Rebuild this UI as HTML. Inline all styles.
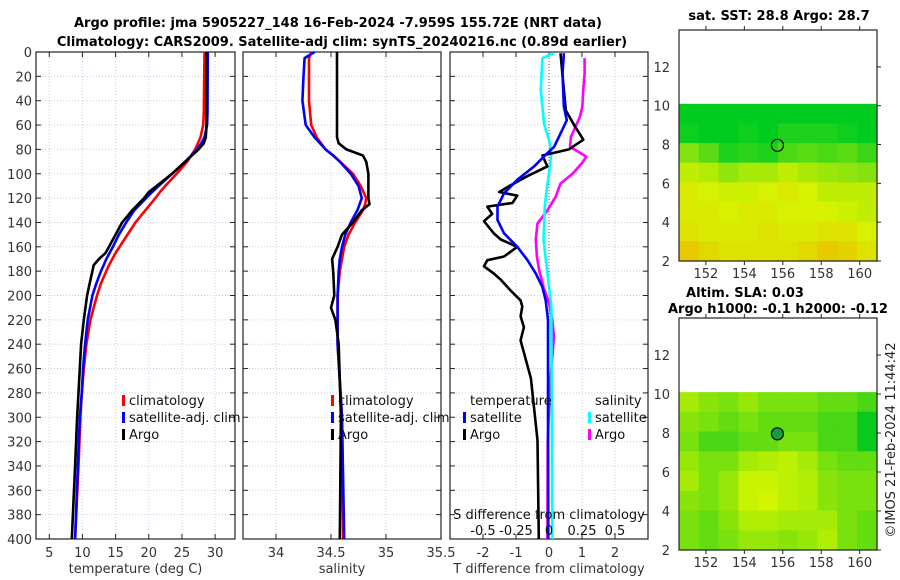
<!DOCTYPE html>
<html><head><meta charset="utf-8"><style>
html,body{margin:0;padding:0;background:#fff;}
svg{display:block;font-family:"DejaVu Sans","Liberation Sans",sans-serif;}
</style></head><body>
<svg id="c" width="900" height="580" viewBox="0 0 900 580" xmlns="http://www.w3.org/2000/svg">
<text x="338" y="27" text-anchor="middle" font-size="13" font-weight="bold">Argo profile: jma 5905227_148 16-Feb-2024 -7.959S 155.72E (NRT data)</text>
<text x="342" y="46" text-anchor="middle" font-size="13" font-weight="bold">Climatology: CARS2009. Satellite-adj clim: synTS_20240216.nc (0.89d earlier)</text>
<text x="779" y="20" text-anchor="middle" font-size="13" font-weight="bold">sat. SST: 28.8 Argo: 28.7</text>
<text x="745" y="297" text-anchor="middle" font-size="13" font-weight="bold">Altim. SLA: 0.03</text>
<text x="778" y="313" text-anchor="middle" font-size="13" font-weight="bold">Argo h1000: -0.1 h2000: -0.12</text>
<text transform="translate(895,440) rotate(-90)" text-anchor="middle" font-size="13" fill="#222">©IMOS 21-Feb-2024 11:44:42</text>
<g id="g"></g>
</svg>
<script>
// ---- depth axis ----
const depthTicks=[0,20,40,60,80,100,120,140,160,180,200,220,240,260,280,300,320,340,360,380,400];
// ---- Temperature panel ----
const tDepth=[0,50,60,70,75,80,90,100,110,115,120,130,140,150,160,165,170,175,180,190,200,220,240,260,280,300,340,400];
const tArgo=[28.7,28.7,28.7,28.6,28.3,27.5,25.5,23.5,21.2,20.0,19.3,17.5,16.0,15.0,14.0,13.5,12.5,11.7,11.5,11.1,10.7,10.2,9.8,9.6,9.4,9.2,8.9,8.4];
const tClim=[28.4,28.3,28.2,27.8,27.4,27.0,25.8,24.2,22.5,21.7,21.0,19.5,18.0,16.8,15.6,15.0,14.5,14.0,13.6,12.8,12.2,11.2,10.6,10.2,9.9,9.7,9.4,8.9];
const tSat=[28.9,28.85,28.8,28.4,27.9,27.3,25.5,23.5,21.5,20.5,19.6,17.8,16.6,15.5,14.6,14.1,13.6,13.2,12.8,12.1,11.5,10.8,10.4,10.1,9.9,9.6,9.3,8.9];
const tTicks=[5,10,15,20,25,30];
// ---- Salinity panel ----
const sDepth=[0,5,20,40,60,70,75,80,85,90,100,110,120,125,130,140,150,160,170,180,200,210,220,240,300,400];
const sArgo=[34.555,34.555,34.555,34.555,34.555,34.555,34.57,34.64,34.79,34.82,34.84,34.84,34.84,34.85,34.78,34.70,34.60,34.56,34.51,34.52,34.53,34.50,34.54,34.57,34.59,34.58];
const sClim=[34.32,34.30,34.30,34.30,34.32,34.37,34.41,34.45,34.52,34.58,34.70,34.77,34.82,34.81,34.79,34.72,34.66,34.62,34.60,34.58,34.56,34.56,34.56,34.56,34.60,34.61];
const sSat=[34.35,34.26,34.25,34.24,34.27,34.35,34.40,34.45,34.52,34.58,34.68,34.75,34.78,34.76,34.74,34.68,34.63,34.60,34.58,34.57,34.56,34.56,34.56,34.56,34.60,34.62];
const sTicks=[34,34.5,35,35.5];
const sTickLabels=["34","34.5","35","35.5"];
// ---- Difference panel ----
const dTDepth=[1,48,60,72,80,85,94,102,111,115,118,124,127,133,139,144,149,154,160,168,171,176,182,187,196,204,209,217,226,237,268,319,400];
const dTArgo=[0.35,0.51,0.76,1.04,0.60,-0.20,-0.05,-0.66,-1.26,-1.51,-0.96,-1.11,-1.87,-1.72,-1.97,-1.82,-1.67,-1.46,-0.96,-1.36,-1.87,-1.97,-1.67,-1.46,-1.16,-0.86,-0.81,-0.86,-0.76,-0.86,-0.55,-0.35,-0.31];
const dTSatDepth=[1,18,45,56,67,78,83,94,105,116,127,138,149,160,171,182,193,204,220,300,400];
const dTSat=[0.45,0.41,0.45,0.54,0.35,0.15,-0.05,-0.45,-0.96,-1.36,-1.56,-1.56,-1.36,-0.96,-0.65,-0.40,-0.20,-0.10,-0.03,-0.03,-0.02];
const dSSatDepth=[1,5,31,59,72,83,100,113,127,154,182,209,237,300,400];
const dSSat=[0.038,-0.05,-0.062,-0.038,0,0.018,0,-0.018,-0.032,-0.042,-0.012,0.018,0.018,0.022,0.025];
const dSArgoDepth=[5,18,31,45,53,61,70,78,83,86,91,100,108,119,130,141,154,168,179,193,206,220,234,270,320,400];
const dSArgo=[0.27,0.27,0.26,0.252,0.235,0.202,0.165,0.16,0.24,0.282,0.252,0.178,0.088,0.05,-0.012,-0.088,-0.10,-0.092,-0.075,-0.042,0,0.025,0.038,0.01,-0.01,-0.012];
const dTTicks=[-2,-1,0,1,2];
const dSTicks=[-0.5,-0.25,0,0.25,0.5];
const dSTickLabels=["-0.5","-0.25","0","0.25","0.5"];
// ---- Maps ----
const mapLatTicks=[2,4,6,8,10,12];
const mapLonTicks=[152,154,156,158,160];
const sstRows=[
[28.0,28.0,27.95,28.0,28.0,28.0,28.0,28.0,28.0,27.95],
[28.05,28.0,28.0,28.05,28.0,28.1,28.1,28.1,28.05,28.0],
[28.45,28.3,28.1,28.15,28.1,28.25,28.3,28.25,28.3,28.2],
[28.7,28.65,28.5,28.6,28.6,28.7,28.6,28.55,28.5,28.45],
[28.85,28.8,28.75,28.75,28.8,28.85,28.8,28.7,28.7,28.7],
[28.85,28.85,28.8,28.85,28.85,28.8,28.8,28.8,28.75,28.7],
[28.9,28.85,28.85,28.85,28.9,28.85,28.85,28.9,28.9,28.8],
[29.05,28.95,28.9,28.9,28.9,28.9,28.95,29.05,29.0,28.9]];
const slaRows=[
[0.6,0.4,0.3,0.5,0.3,0.3,0.3,0.2,0.2,0.1],
[0.4,0.3,0.2,0.3,0.2,0.2,0.2,0.1,0.1,0.0],
[0.3,0.1,0.1,0.2,0.2,0.3,0.3,0.1,0.1,0.0],
[0.5,0.3,0.3,0.6,0.7,0.8,0.6,0.3,0.2,0.2],
[0.6,0.3,0.5,0.9,0.9,0.8,0.7,0.4,0.3,0.3],
[0.4,0.3,0.5,0.9,1.0,0.8,0.7,0.4,0.3,0.3],
[0.3,0.2,0.4,0.7,0.7,0.6,0.6,0.6,0.3,0.2],
[0.3,0.2,0.3,0.5,0.5,0.4,0.5,0.7,0.3,0.2]];
const argoLon=155.72, argoLat=7.96;

const NS="http://www.w3.org/2000/svg";
const G=document.getElementById('g');
function el(tag,attrs,parent){const e=document.createElementNS(NS,tag);for(const k in attrs)e.setAttribute(k,attrs[k]);(parent||G).appendChild(e);return e;}
const Y0=52,Y1=539;
const yD=d=>Y0+(d/400)*(Y1-Y0);
function lin(d0,d1,r0,r1){return v=>r0+(v-d0)/(d1-d0)*(r1-r0);}

function panel(name,x0,x1,xTicks,xfn,tickLabels,xTitle,showY){
  const g=el('g',{});
  
  
  depthTicks.forEach(d=>{const l=el('line',{x1:x0,x2:x1,y1:yD(d),y2:yD(d),stroke:'#c9cde8','stroke-width':1,'stroke-dasharray':'1,2'},g);
    
    el('line',{x1:x0,x2:x0+5,y1:yD(d),y2:yD(d),stroke:'#222'},g);el('line',{x1:x1-5,x2:x1,y1:yD(d),y2:yD(d),stroke:'#222'},g);
    if(showY){const t=el('text',{x:x0-4,y:yD(d)+5,'text-anchor':'end','font-size':13,fill:'#333'},g);t.textContent=d;
      }
  });
  xTicks.forEach((v,i)=>{const x=xfn(v);
    const l=el('line',{x1:x,x2:x,y1:Y0,y2:Y1,stroke:'#c9cde8','stroke-width':1,'stroke-dasharray':'1,2'},g);
    
    el('line',{x1:x,x2:x,y1:Y1-5,y2:Y1,stroke:'#222'},g);el('line',{x1:x,x2:x,y1:Y0,y2:Y0+5,stroke:'#222'},g);
    const t=el('text',{x:x,y:557,'text-anchor':'middle','font-size':13,fill:'#333'},g);t.textContent=tickLabels?tickLabels[i]:v;
    
  });
  const r=el('rect',{x:x0,y:Y0,width:x1-x0,height:Y1-Y0,fill:'none',stroke:'#222','stroke-width':1.2},g);
  
  const t=el('text',{x:(x0+x1)/2,y:573,'text-anchor':'middle','font-size':13,fill:'#333'},g);t.textContent=xTitle;
  
  return g;
}
function series(g,name,depths,vals,xfn,color){
  const p=el('path',{d:vals.map((v,i)=>(i?'L':'M')+xfn(v).toFixed(1)+','+yD(depths[i]).toFixed(1)).join(''),fill:'none',stroke:color,'stroke-width':2.6,'stroke-linejoin':'round'},g);
  
  
}
function legend(g,x,y,label,color){
  if(color){const b=el('rect',{x:x-7,y:y-10,width:3,height:11,fill:color},g);
    }
  const t=el('text',{x:x,y:y,'font-size':13,fill:'#111'},g);t.textContent=label;
  
}
const xT=lin(3,33,36,235);
const p1=panel('temperature-panel',36,235,tTicks,xT,null,'temperature (deg C)',true);
series(p1,'clim-temperature-line',tDepth,tClim,xT,'#ff0000');
series(p1,'sat-temperature-line',tDepth,tSat,xT,'#0000ff');
series(p1,'argo-temperature-line',tDepth,tArgo,xT,'#000');
legend(p1,129,405,'climatology','#ff0000');legend(p1,129,422,'satellite-adj. clim','#0000ff');legend(p1,129,439,'Argo','#000');
const xS=lin(33.7,35.5,243,441);
const p2=panel('salinity-panel',243,441,sTicks,xS,sTickLabels,'salinity',false);
series(p2,'clim-salinity-line',sDepth,sClim,xS,'#ff0000');
series(p2,'sat-salinity-line',sDepth,sSat,xS,'#0000ff');
series(p2,'argo-salinity-line',sDepth,sArgo,xS,'#000');
legend(p2,338,405,'climatology','#ff0000');legend(p2,338,422,'satellite-adj. clim','#0000ff');legend(p2,338,439,'Argo','#000');
const xD=lin(-3,3,450,648);
const xDS=v=>xD(v*4);
const p3=panel('difference-panel',450,648,dTTicks,xD,null,'T difference from climatology',false);
const z=el('line',{x1:xD(0),x2:xD(0),y1:Y0,y2:Y1,stroke:'#555','stroke-width':1,'stroke-dasharray':'1,2'},p3);

series(p3,'argo-s-diff-line',dSArgoDepth,dSArgo,xDS,'#ff00ff');
series(p3,'sat-s-diff-line',dSSatDepth,dSSat,xDS,'#00ffff');
series(p3,'argo-t-diff-line',dTDepth,dTArgo,xD,'#000');
series(p3,'sat-t-diff-line',dTSatDepth,dTSat,xD,'#0000ff');
legend(p3,470,405,'temperature',null);legend(p3,470,422,'satellite','#0000ff');legend(p3,470,439,'Argo','#000');
legend(p3,595,405,'salinity',null);legend(p3,595,422,'satellite','#00ffff');legend(p3,595,439,'Argo','#ff00ff');
{const t=el('text',{x:549,y:519,'text-anchor':'middle','font-size':13,fill:'#111'},p3);t.textContent='S difference from climatology';
}
dSTicks.forEach((v,i)=>{const t=el('text',{x:xDS(v),y:535,'text-anchor':'middle','font-size':13,fill:'#111'},p3);t.textContent=dSTickLabels[i];
});

function mix(a,b,t){return a.map((v,i)=>Math.round(v+(b[i]-v)*t));}
function sstColor(v){const stops=[[28.0,[0,204,32]],[28.4,[120,224,16]],[28.8,[215,242,0]],[29.2,[240,176,0]]];
  for(let i=0;i<stops.length-1;i++){if(v<=stops[i+1][0]){const t=Math.max(0,(v-stops[i][0])/(stops[i+1][0]-stops[i][0]));const c=mix(stops[i][1],stops[i+1][1],t);return 'rgb('+c+')';}}
  return 'rgb('+stops[3][1]+')';}
function slaColor(v){const c=mix([10,200,30],[210,245,0],Math.sqrt(v));return 'rgb('+c+')';}
function map(name,top,bottom,rows,colorFn,circleFill){
  const g=el('g',{});
  
  
  const xM=lin(150.6,160.9,679,877), yM=lin(2,13.9,bottom,top);
  const nr=rows.length,nc=rows[0].length;
  const lat0=10.1, lat1=2, lon0=150.6, lon1=160.9;
  rows.forEach((row,r)=>row.forEach((v,c)=>{
    const la=lat0-(lat0-lat1)*r/nr, lb=lat0-(lat0-lat1)*(r+1)/nr;
    const lo=lon0+(lon1-lon0)*c/nc, lo2=lon0+(lon1-lon0)*(c+1)/nc;
    const cell=el('rect',{x:xM(lo).toFixed(1),y:yM(la).toFixed(1),width:(xM(lo2)-xM(lo)+0.6).toFixed(1),height:(yM(lb)-yM(la)+0.6).toFixed(1),fill:colorFn(v)},g);
    
    
  }));
  const ci=el('circle',{cx:xM(argoLon),cy:yM(argoLat),r:6,fill:circleFill,stroke:'#000','stroke-width':1.2},g);
  
  const fr=el('rect',{x:679,y:top,width:198,height:bottom-top,fill:'none',stroke:'#222','stroke-width':1.2},g);
  
  mapLatTicks.forEach(v=>{const y=yM(v);el('line',{x1:877,x2:881,y1:y,y2:y,stroke:'#222'},g);
    const t=el('text',{x:670,y:y+5,'text-anchor':'end','font-size':13,fill:'#333'},g);t.textContent=v;
    });
  mapLonTicks.forEach(v=>{const x=xM(v);el('line',{x1:x,x2:x,y1:bottom,y2:bottom+4,stroke:'#222'},g);el('line',{x1:x,x2:x,y1:top-4,y2:top,stroke:'#222'},g);
    const t=el('text',{x:x,y:bottom+17,'text-anchor':'middle','font-size':13,fill:'#333'},g);t.textContent=v;
    });
}
map('sst-map',30,261,sstRows,sstColor,'none');
map('sla-map',318,550,slaRows,slaColor,'#12a03c');
</script>
</body></html>
